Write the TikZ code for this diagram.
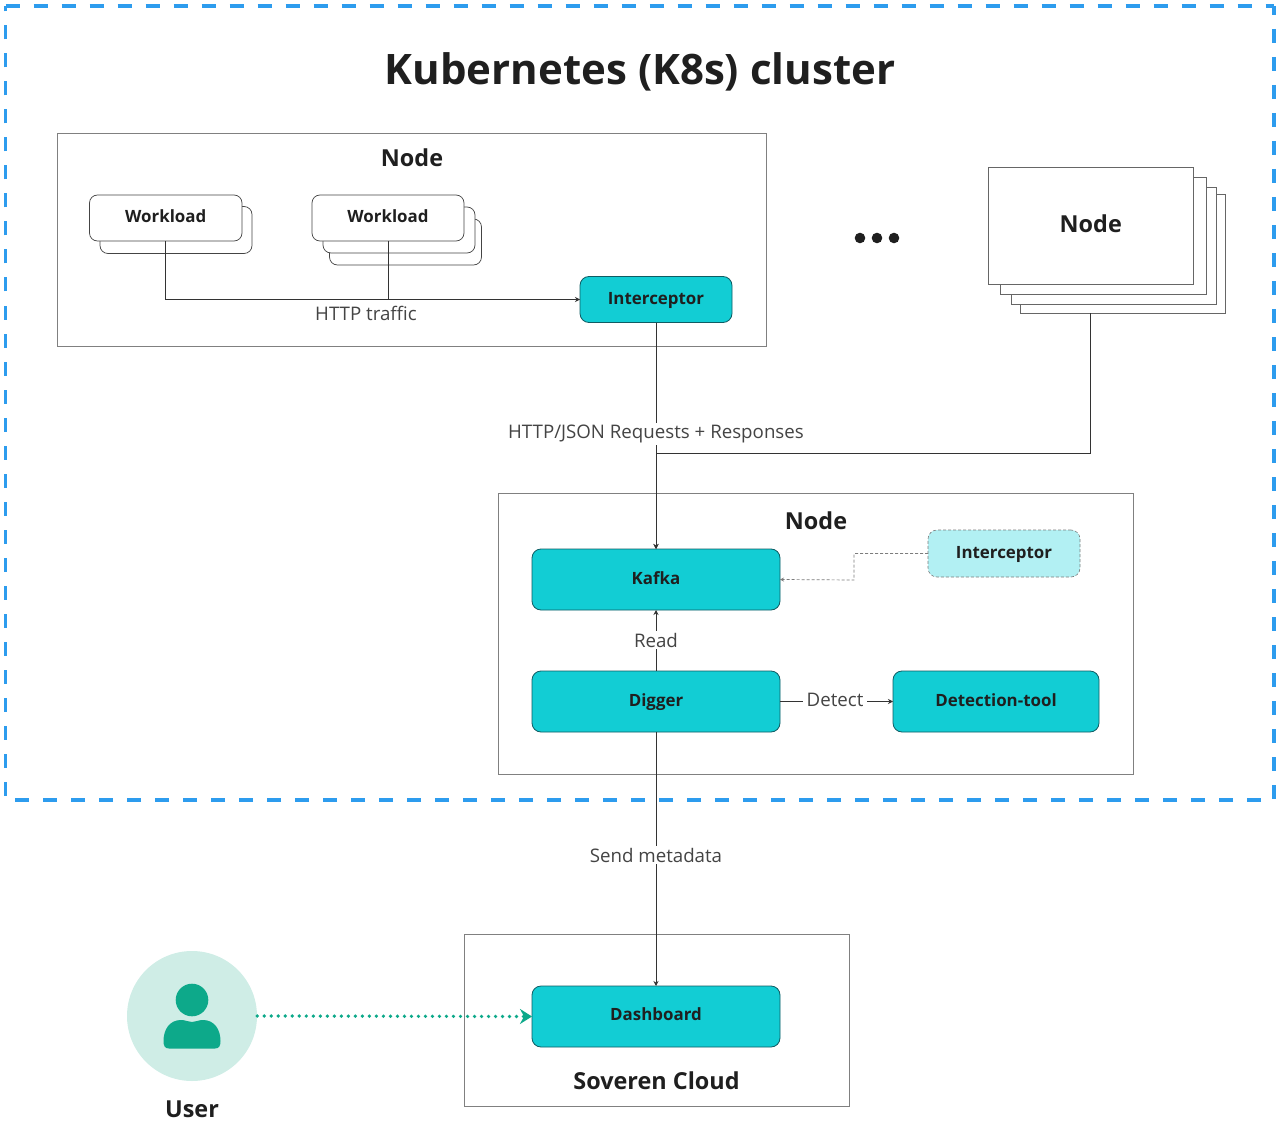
\documentclass[tikz,border=0pt]{standalone}
\usepackage{fontspec}
\setmainfont{Open Sans}
\usetikzlibrary{arrows.meta,calc}
\definecolor{teal1}{HTML}{12CDD4}
\definecolor{tealline}{HTML}{0F5C63}
\definecolor{lightteal}{HTML}{B2F0F3}
\definecolor{greenu}{HTML}{0DA98A}
\definecolor{greenl}{HTML}{CFEDE6}
\definecolor{blued}{HTML}{2D9CEE}
\definecolor{boxgray}{HTML}{808080}
\definecolor{ink}{HTML}{1F1F1F}
\definecolor{lab}{HTML}{444444}
\definecolor{wire}{HTML}{333333}
\tikzset{
  x=1pt,y=-1pt,
  bx/.style 2 args={minimum width=#1pt,minimum height=#2pt,inner sep=0pt,outer sep=0pt,anchor=center},
  boxfont/.style={text=ink,font=\fontsize{16.9}{18}\bfseries,text height=12.5pt,text depth=3.5pt},
  plainbox/.style={draw=boxgray,line width=1pt,fill=white},
  stackbox/.style={draw=boxgray!80!black,line width=1pt,fill=white},
  work/.style={draw=lab,line width=.7pt,fill=white,rounded corners=8pt,boxfont},
  teal/.style={draw=tealline,line width=.8pt,fill=teal1,rounded corners=9pt,boxfont},
  ghost/.style={draw=lab!70,densely dashed,line width=.6pt,fill=lightteal,rounded corners=9pt,boxfont},
  wirel/.style={draw=wire,line width=1pt,-{Stealth[length=5pt,width=5pt]}},
  wiren/.style={draw=wire,line width=1pt},
  ttl/.style={text=ink,font=\fontsize{23.4}{26}\bfseries,inner sep=0pt},
  lbl/.style={text=lab,font=\fontsize{18.7}{20}\selectfont,inner sep=2pt},
  lblw/.style={lbl,fill=white,inner xsep=4pt,inner ysep=2pt},
  borderdash/.style={draw=blued,line width=3.4pt,dash pattern=on 14pt off 14pt},
}
\begin{document}
\begin{tikzpicture}
\useasboundingbox (0,0) rectangle (1278,1121);
% cluster
\node[bx={1268.5}{794}] (cluster) at (639.75,403) {};
\draw[borderdash] (cluster.north west) -- (cluster.north east);
\draw[borderdash,dash phase=5pt] (cluster.north east) -- (cluster.south east) -- (cluster.south west) -- (cluster.north west);
\node[text=ink,font=\fontsize{42}{44}\bfseries,inner sep=0pt] (title) at (640,72) {Kubernetes (K8s) cluster};
% left node
\node[bx={709}{213},plainbox] (nodeA) at (411.5,240) {};
\node[ttl] (nodeAt) at (412,158) {Node};
\node[bx={152}{47},work] (w1b) at (176,230) {};
\node[bx={152.5}{46},work] (w1) at (165.75,218) {Workload};
\node[bx={152}{46},work] (w2c) at (405.5,242) {};
\node[bx={152}{46},work] (w2b) at (399,230) {};
\node[bx={152}{46},work] (w2) at (388,218) {Workload};
\node[bx={152}{46},teal] (icp) at (656,299.5) {Interceptor};
% stack
\node[bx={205.5}{118},stackbox] (s4) at (1122.75,254) {};
\node[bx={205.5}{117},stackbox] (s3) at (1113.75,246) {};
\node[bx={205.5}{117},stackbox] (s2) at (1103.25,236) {};
\node[bx={205.5}{117},stackbox,ttl,text height=17pt,text depth=3.4pt] (s1) at (1090.75,226) {Node};
% dots
\fill[ink] (860,238) circle (5.3pt) (877,238) circle (5.3pt) (894,238) circle (5.3pt);
% lower node
\node[bx={635}{281},plainbox] (nodeB) at (816,633.5) {};
\node[ttl] (nodeBt) at (816,520.5) {Node};
\node[bx={248}{61},teal] (kafka) at (656,579.5) {Kafka};
\node[bx={248}{61},teal] (digger) at (656,701.5) {Digger};
\node[bx={206}{61},teal] (detect) at (996,701.5) {Detection-tool};
\node[bx={152}{47},ghost] (icp2) at (1004,553.5) {Interceptor};
% cloud
\node[bx={385}{172},plainbox] (cloud) at (656.5,1020.5) {};
\node[bx={248}{61},teal,text depth=5.5pt] (dash) at (656,1016.5) {Dashboard};
\node[ttl] (cloudt) at (656.5,1081) {Soveren Cloud};
% user
\node[circle,fill=greenl,minimum size=130pt,inner sep=0pt] (user) at (192,1016) {};
\fill[greenu] (192,1000) circle (16.3pt);
\fill[greenu] (163.5,1041) .. controls (163.5,1029) and (170,1020) .. (181,1020) .. controls (186,1020) and (188,1022) .. (192,1022) .. controls (196,1022) and (198,1020) .. (203,1020) .. controls (214,1020) and (220.5,1029) .. (220.5,1041) .. controls (220.5,1046) and (219,1048.5) .. (215,1048.5) -- (169,1048.5) .. controls (165,1048.5) and (163.5,1046) .. (163.5,1041) -- cycle;
\node[ttl] (usert) at (192,1109) {User};
% connectors
\draw[wirel] (w1.south) -- (w1.south |- icp.west) -- (icp.west);
\draw[wiren] (w2.south) -- (w2.south |- icp.west);
\node[lbl] (httpl) at (366,313) {HTTP traffic};
\draw[wirel] (icp.south) -- (kafka.north);
\coordinate (stackout) at (s1.south |- s4.south);
\draw[wirel] (stackout) -- ++(0,140) -| (kafka.north);
\node[lblw] (jsonl) at (656,434) {HTTP/JSON Requests + Responses};
\draw[draw=lab!70,densely dashed,line width=.7pt,-{Stealth[length=4pt,width=4pt]}] (icp2.west) -- (854,553.5) -- (854,580) -- (kafka.east);
\draw[wirel] (digger.north) -- (kafka.south);
\node[lblw] (readl) at (656,640) {Read};
\draw[wirel] (digger.east) -- (detect.west);
\node[lblw] (detl) at (835,700) {Detect};
\draw[wirel] (digger.south) -- (dash.north);
\node[lblw] (sendl) at (656,855) {Send metadata};
\draw[greenu,line width=3.7pt,line cap=round,dash pattern=on 0.01pt off 7pt,-{Stealth[length=12pt,width=15pt,inset=4pt]}] (user.east) -- (dash.west);
\end{tikzpicture}
\end{document}
